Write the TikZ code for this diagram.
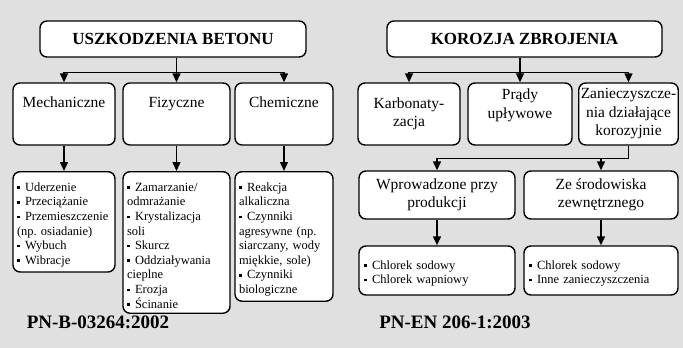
\documentclass[tikz,border=0pt]{standalone}
\usepackage{fontspec}
\setmainfont{Liberation Serif}
\usetikzlibrary{arrows.meta}
\newcommand{\kropka}{\raisebox{2.4pt}{\rule{2.6pt}{2.6pt}}}
\newcommand{\pkt}[1]{\par\hangindent=8pt\hangafter=1\noindent\makebox[8pt][l]{\kropka}#1}
\begin{document}
\begin{tikzpicture}[x=1pt,y=-1pt,
  ramka/.style={draw=black,line width=1.4pt,rounded corners=7pt,fill=white},
  tytul/.style={ramka,minimum width=266pt,minimum height=36pt,font=\fontsize{17}{20}\selectfont\bfseries},
  grupa/.style={ramka,minimum height=62pt,align=center,inner sep=2pt,font=\fontsize{15.5}{18.5}\selectfont},
  jedna/.style={text height=11pt,text depth=24pt},
  lista/.style={ramka,anchor=north,inner xsep=4pt,inner ysep=5pt,align=left,font=\fontsize{12.5}{14.6}\selectfont},
  strz/.style={line width=1.4pt,-{Triangle[length=9pt,width=8pt]}},
  norma/.style={font=\fontsize{19}{22}\selectfont\bfseries}]
	\fill [black!12](0,0) rectangle (683,348);
	\useasboundingbox (0,0) rectangle (683,348);
	% uszkodzenia betonu
	\node [tytul] (t1) at (173,39) {USZKODZENIA BETONU};
	\node [grupa,jedna,minimum width=102pt] (m1) at (64,114) {Mechaniczne};
	\node [grupa,jedna,minimum width=107pt] (m2) at (176.5,114) {Fizyczne};
	\node [grupa,jedna,minimum width=98pt] (m3) at (284,114) {Chemiczne};
	\node [lista,text width=94pt,minimum height=99pt] (l1) at (64,171) {\pkt{Uderzenie}\pkt{Przeciążanie}\pkt{Przemieszczenie\\(np.~osiadanie)}\pkt{Wybuch}\pkt{Wibracje}};
	\node [lista,text width=99pt,minimum height=139pt] (l2) at (176.5,171) {\pkt{Zamarzanie/\\odmrażanie}\pkt{Krystalizacja\\soli}\pkt{Skurcz}\pkt{Oddziaływania\\cieplne}\pkt{Erozja}\pkt{Ścinanie}};
	\node [lista,text width=90pt,minimum height=122pt] (l3) at (284,171) {\pkt{Reakcja\\alkaliczna}\pkt{Czynniki\\agresywne~(np.\\siarczany,~wody\\miękkie,~sole)}\pkt{Czynniki\\biologiczne}};
	\draw [strz](m2.north |- t1.south) -- (m2.north);
	\draw [strz](m2.north |- t1.south) -- ++(0,15) -| (m1.north);
	\draw [strz](m2.north |- t1.south) -- ++(0,15) -| (m3.north);
	\foreach \i in {1,2,3}
		\draw [strz](m\i.south) -- (l\i.north);
	\node [norma] (n1) at (98,322) {PN-B-03264:2002};
	% korozja zbrojenia
	\node [tytul,minimum width=275pt] (t2) at (524.5,39) {KOROZJA ZBROJENIA};
	\node [grupa,minimum width=102pt] (k1) at (409,114) {Karbonaty-\\zacja};
	\node [grupa,minimum width=104pt,text depth=21pt] (k2) at (520,114) {Prądy\\upływowe};
	\node [grupa,minimum width=99pt] (k3) at (628.5,114) {Zanieczyszcze-\\nia działające\\korozyjnie};
	\node [grupa,minimum width=156pt,minimum height=48pt] (w1) at (437,195) {Wprowadzone przy\\produkcji};
	\node [grupa,minimum width=154pt,minimum height=48pt] (w2) at (601,195) {Ze środowiska\\zewnętrznego};
	\node [lista,anchor=center,inner xsep=5pt,text width=146pt,minimum height=49pt] (p1) at (437,270.5) {\pkt{Chlorek~sodowy}\pkt{Chlorek~wapniowy}};
	\node [lista,anchor=center,inner xsep=5pt,text width=144pt,minimum height=49pt] (p2) at (601,270.5) {\pkt{Chlorek~sodowy}\pkt{Inne~zanieczyszczenia}};
	\draw [strz](k2.north |- t2.south) -- (k2.north);
	\draw [strz](k2.north |- t2.south) -- ++(0,15) -| (k1.north);
	\draw [strz](k2.north |- t2.south) -- ++(0,15) -| (k3.north);
	\draw [strz](k3.south) -- ++(0,13) -| (w1.north);
	\draw [strz](k3.south) -- ++(0,13) -| (w2.north);
	\draw [strz](w1.south) -- (p1.north);
	\draw [strz](w2.south) -- (p2.north);
	\node [norma] (n2) at (455,322) {PN-EN 206-1:2003};
\end{tikzpicture}
\end{document}
